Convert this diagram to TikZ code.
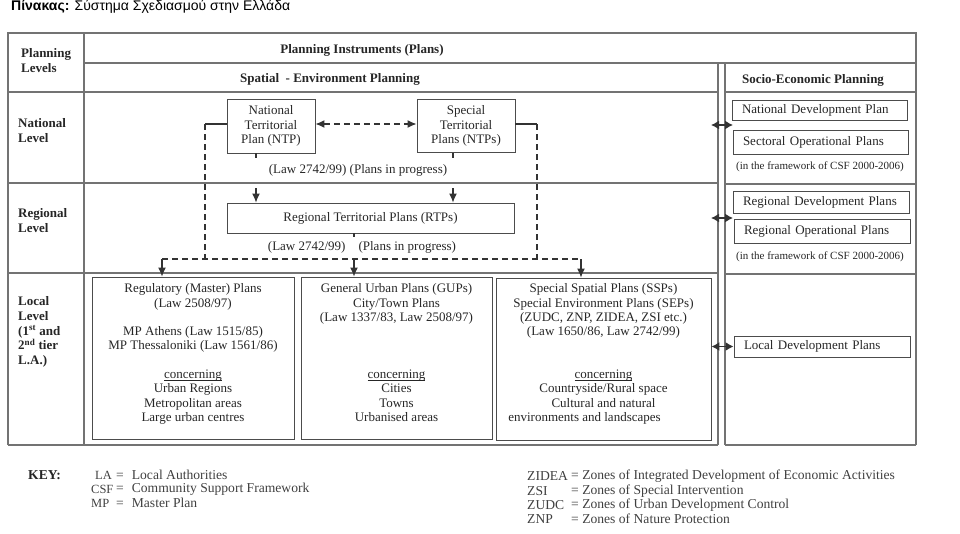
\documentclass[tikz,border=0pt]{standalone}
\usepackage{fontspec}
\setmainfont{Liberation Serif}
\newfontfamily\titlefont{Liberation Sans}
\usetikzlibrary{positioning, arrows.meta}
\newcommand{\ulword}[1]{\underline{\smash{#1}}}

\begin{document}
\begin{tikzpicture}[x=1pt, y=-1pt,
        font=\fontsize{13}{14.3}\selectfont, text=black!85,
        gridline/.style={draw=black!55, line width=1.2pt},
        planbox/.style={rectangle, draw=black!70, line width=0.9pt, inner sep=0pt, align=center},
        sociobox/.style={rectangle, draw=black!70, line width=0.9pt, inner ysep=0pt, inner xsep=10pt, align=left},
        boxtext/.style={align=center, inner sep=0pt},
        levelnode/.style={anchor=west, align=left, inner sep=0pt, font=\fontsize{13}{14.6}\selectfont\bfseries},
        headnode/.style={inner sep=0pt, font=\fontsize{13}{15}\selectfont\bfseries},
        notenode/.style={inner sep=0pt},
        smallnote/.style={inner sep=0pt, font=\fontsize{11}{13}\selectfont},
        linkline/.style={draw=black!80, line width=1.3pt, dash pattern=on 6pt off 4pt},
        solidlink/.style={draw=black!80, line width=1.2pt},
        flowarrow/.style={draw=black!80, line width=1.2pt, -{Latex[length=9pt,width=8pt]}},
        twoway/.style={draw=black!80, line width=1.4pt, {Latex[length=8pt,width=9pt]}-{Latex[length=8pt,width=9pt]}},
        keynode/.style={anchor=west, inner sep=0pt, text=black!75, font=\fontsize{13.6}{15}\selectfont},
        keyabbr/.style={keynode, font=\fontsize{12.5}{14}\selectfont},
        ]
        \useasboundingbox (0,0) rectangle (960,533);

        %Title
        \node[anchor=west, inner sep=0pt, text=black, font=\titlefont\fontsize{14}{16}\selectfont] (title) at (11,7) {\textbf{Πίνακας:} Σύστημα Σχεδιασμού στην Ελλάδα};

        %Table
        \draw[gridline] (8,445) -- (8,33) -- (916,33) -- (916,445);
        \draw[gridline] (8,445) -- (718,445);
        \draw[gridline] (725,445) -- (916,445);
        \draw[gridline] (84,33) -- (84,445);
        \draw[gridline] (84,63) -- (916,63);
        \draw[gridline] (718,63) -- (718,445);
        \draw[gridline] (725,63) -- (725,445);
        \draw[gridline] (8,92) -- (718,92);
        \draw[gridline] (725,92) -- (916,92);
        \draw[gridline] (8,183) -- (718,183);
        \draw[gridline] (725,184) -- (916,184);
        \draw[gridline] (8,273) -- (718,273);
        \draw[gridline] (725,274) -- (916,274);

        %Headers
        \node[headnode] (instruments) at (362,50) {Planning Instruments (Plans)};
        \node[headnode] (spatial) at (330,79) {Spatial\ \ - Environment Planning};
        \node[headnode] (socio) at (813,80) {Socio-Economic Planning};
        \node[levelnode] (levels) at (21,60.5) {Planning\\Levels};
        \node[levelnode] (national) at (18,130.5) {National\\Level};
        \node[levelnode] (regional) at (18,220.5) {Regional\\Level};
        \node[levelnode] (local) at (18,332) {Local\\Level\\(1\textsuperscript{st} and\\2\textsuperscript{nd} tier\\L.A.)};

        %Nodes
        \node[planbox, minimum width=88pt, minimum height=54pt] (ntp) at (271,126) {National\\Territorial\\Plan (NTP)};
        \node[planbox, minimum width=98pt, minimum height=53pt] (stp) at (466,126) {Special\\Territorial\\Plans (NTPs)};
        \node[notenode] (lawnat) at (358,170) {(Law 2742/99) (Plans in progress)};
        \node[planbox, minimum width=287pt, minimum height=30pt] (rtp) at (370.5,218) {Regional Territorial Plans (RTPs)};
        \node[notenode] (lawreg) at (362,247) {(Law 2742/99)\ \ \ \ (Plans in progress)};

        \node[planbox, minimum width=202pt, minimum height=162pt] (rmp) at (193,358) {};
        \node[planbox, minimum width=191pt, minimum height=162pt] (gup) at (396.5,358) {};
        \node[planbox, minimum width=215pt, minimum height=162pt] (ssp) at (603.5,359) {};
        \node[boxtext, below=7pt of rmp.north] (rmptext) {Regulatory (Master) Plans\\(Law 2508/97)\\[14.3pt]
            MP Athens (Law 1515/85)\\MP Thessaloniki (Law 1561/86)\\[14.3pt]
            \ulword{concerning}\\Urban Regions\\Metropolitan areas\\Large urban centres};
        \node[boxtext, below=7pt of gup.north] (guptext) {General Urban Plans (GUPs)\\City/Town Plans\\(Law 1337/83, Law 2508/97)\\[42.9pt]
            \ulword{concerning}\\Cities\\Towns\\Urbanised areas};
        \node[boxtext, below=6pt of ssp.north] (ssptext) {Special Spatial Plans (SSPs)\\Special Environment Plans (SEPs)\\(ZUDC, ZNP, ZIDEA, ZSI etc.)\\(Law 1650/86, Law 2742/99)\\[28.6pt]
            \ulword{concerning}\\Countryside/Rural space\\Cultural and natural\\environments and landscapes\hspace*{38pt}\mbox{}};

        \node[sociobox, text width=155pt, minimum height=20pt] (ndp) at (819.5,110) {National Development Plan};
        \node[sociobox, text width=155pt, minimum height=24pt] (sop) at (820.5,142) {Sectoral Operational Plans};
        \node[smallnote] (csfnat) at (820,167) {(in the framework of CSF 2000-2006)};
        \node[sociobox, text width=156pt, minimum height=22pt] (rdp) at (821,202) {Regional Development Plans};
        \node[sociobox, text width=156pt, minimum height=24pt] (rop) at (822,231) {Regional Operational Plans};
        \node[smallnote] (csfreg) at (820,257) {(in the framework of CSF 2000-2006)};
        \node[sociobox, text width=156pt, minimum height=21pt] (ldp) at (822,346.5) {Local Development Plans};

        %Lines
        \draw[linkline, {Latex[length=9pt,width=8pt]}-{Latex[length=9pt,width=8pt]}] ([yshift=2pt]ntp.east) -- ([yshift=2pt]stp.west);
        \draw[solidlink] (ntp.south -| 256,0) -- ++(0,5);
        \draw[solidlink] (stp.south -| 453,0) -- ++(0,5);
        \draw[solidlink] (rtp.south -| 354,0) -- ++(0,4);
        \coordinate (ntpdrop) at (256,188);
        \coordinate (stpdrop) at (453,188);
        \draw[flowarrow] (ntpdrop) -- (ntpdrop |- rtp.north);
        \draw[flowarrow] (stpdrop) -- (stpdrop |- rtp.north);

        \coordinate (leftturn) at (205,124);
        \coordinate (rightturn) at (537,124);
        \coordinate (leftfoot) at (205,259);
        \coordinate (rightfoot) at (537,259);
        \coordinate (rmpdrop) at (162,259);
        \coordinate (gupdrop) at (354,259);
        \coordinate (sspdrop) at (581,259);
        \draw[solidlink] ([yshift=2pt]ntp.west) -- (leftturn);
        \draw[solidlink] ([yshift=2pt]stp.east) -- (rightturn);
        \draw[linkline] (leftturn) -- (leftfoot);
        \draw[linkline] (rightturn) -- (rightfoot);
        \draw[linkline] (rmpdrop) -- (sspdrop);
        \draw[flowarrow] (rmpdrop) -- (rmpdrop |- rmp.north);
        \draw[flowarrow] (gupdrop) -- (gupdrop |- gup.north);
        \draw[flowarrow] (sspdrop) -- (sspdrop |- ssp.north);

        \coordinate (natleft) at (711,125);
        \coordinate (natright) at (733,125);
        \coordinate (regleft) at (711,218);
        \coordinate (regright) at (733,218);
        \draw[twoway] (natleft) -- (natright);
        \draw[twoway] (regleft) -- (regright);
        \draw[twoway] (ssp.east |- ldp.west) -- (ldp.west);

        %Key
        \node[keynode, text=black!85, font=\fontsize{13.6}{15}\selectfont\bfseries] (key) at (28,475) {KEY:};
        \node[keyabbr] (keyla) at (95,475) {LA};
        \node[keynode] (keylatext) at (116,475) {=\hspace*{8pt}Local Authorities};
        \node[keyabbr] (keycsf) at (91,489) {CSF};
        \node[keynode] (keycsftext) at (116,489) {=\hspace*{8pt}Community Support Framework};
        \node[keyabbr] (keymp) at (91,503) {MP};
        \node[keynode] (keymptext) at (116,503) {=\hspace*{8pt}Master Plan};
        \node[keynode] (keyzidea) at (527,476) {ZIDEA};
        \node[keynode] (keyzideatext) at (571,476) {= Zones of Integrated Development of Economic Activities};
        \node[keynode] (keyzsi) at (527,491) {ZSI};
        \node[keynode] (keyzsitext) at (571,491) {= Zones of Special Intervention};
        \node[keynode] (keyzudc) at (527,505) {ZUDC};
        \node[keynode] (keyzudctext) at (571,505) {= Zones of Urban Development Control};
        \node[keynode] (keyznp) at (527,519) {ZNP};
        \node[keynode] (keyznptext) at (571,519) {= Zones of Nature Protection};
\end{tikzpicture}
\end{document}
